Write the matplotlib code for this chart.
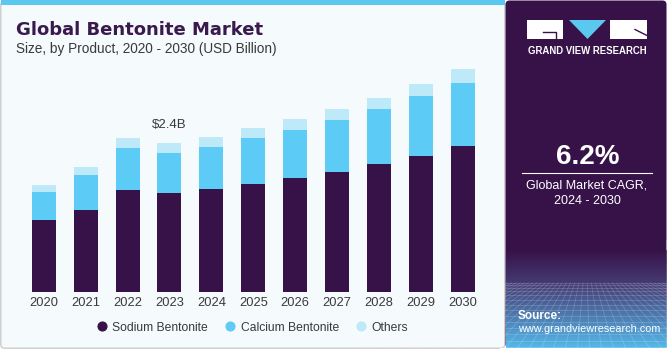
import matplotlib
matplotlib.use("Agg")
import matplotlib.pyplot as plt
from matplotlib.patches import Rectangle, FancyBboxPatch, Polygon
from matplotlib.lines import Line2D
import numpy as np

plt.rcParams["font.family"] = ["Liberation Sans", "DejaVu Sans"]

# ---- data (USD billion) ----
years = ["2020", "2021", "2022", "2023", "2024", "2025",
         "2026", "2027", "2028", "2029", "2030"]
sodium  = [1.16, 1.33, 1.64, 1.60, 1.67, 1.74, 1.84, 1.94, 2.07, 2.20, 2.35]
calcium = [0.46, 0.56, 0.68, 0.64, 0.67, 0.74, 0.78, 0.83, 0.88, 0.96, 1.03]
others  = [0.10, 0.13, 0.16, 0.16, 0.17, 0.17, 0.17, 0.18, 0.18, 0.20, 0.22]
series_names = ["Sodium Bentonite", "Calcium Bentonite", "Others"]
highlight_idx = 3
highlight_label = r"\$2.4B"

PURPLE, BLUE, LIGHT = "#371249", "#5ccbf5", "#bde9f9"
TITLE_C, TXT = "#3a1a4c", "#3a3a3a"
W, H = 670, 350

fig = plt.figure(figsize=(W / 100, H / 100), dpi=100, facecolor="white")

# background layer in pixel coords
bg = fig.add_axes([0, 0, 1, 1], zorder=0)
bg.set_xlim(0, W); bg.set_ylim(H, 0); bg.axis("off")

bg.add_patch(FancyBboxPatch((0.8, 0.8), 504, 347.4, boxstyle="round,pad=0,rounding_size=4",
                            facecolor="#f5fafd", edgecolor="#cccccc", lw=1))
bg.add_patch(Rectangle((0.8, 0), 504.5, 5, color="#5bc8f0", lw=0))

# right panel
bg.add_patch(FancyBboxPatch((505.5, 0.5), 161, 347.5, boxstyle="round,pad=0,rounding_size=4",
                            facecolor=PURPLE, edgecolor="none"))
# gradient at the bottom of the right panel
n = 100
t = np.linspace(0, 1, n)[:, None]
c0 = np.array([0x37, 0x12, 0x49]) / 255
c1 = np.array([0x45, 0x3a, 0x72]) / 255
c2 = np.array([0x55, 0xb8, 0xea]) / 255
k = np.clip(t / 0.33, 0, 1)
k2 = np.clip((t - 0.33) / 0.67, 0, 1)
rgb = c0 * (1 - k) + c1 * k
rgb = np.where(t > 0.33, c1 * (1 - k2) + c2 * k2, rgb)
img = np.repeat(rgb[:, None, :], 2, axis=1)
bg.imshow(img, extent=[505.5, 666.5, 348, 250], aspect="auto", zorder=2,
          interpolation="bilinear")
# faint perspective mesh
for i in range(14):
    yy = 283 + 65 * (i / 13) ** 1.4
    bg.plot([505.5, 666.5], [yy, yy], color="white", alpha=0.18, lw=0.6, zorder=3)
for i in range(-12, 26):
    x0 = 505.5 + i * 12
    bg.plot([586 + (x0 - 586) * 0.35, x0], [283, 348], color="white", alpha=0.18,
            lw=0.6, zorder=3)
bg.add_patch(Rectangle((666.5, 240), 5, 110, color="white", zorder=4))
bg.add_patch(Rectangle((500, 348), 170, 5, color="white", zorder=4))

# logo
bg.add_patch(Rectangle((527, 20), 36, 19, color="white", lw=0, zorder=5))
bg.plot([543, 556, 556], [32, 32, 39], color=PURPLE, lw=1, zorder=6)
bg.add_patch(Polygon([(569, 20), (606, 20), (587.5, 39)], closed=True,
                     color="#5bc8f0", lw=0, zorder=5))
bg.add_patch(Rectangle((610, 20), 37, 19, color="white", lw=0, zorder=5))
bg.plot([635, 647], [29.5, 35.5], color=PURPLE, lw=1, zorder=6)
bg.text(587, 51, "GRAND VIEW RESEARCH", color="white", fontsize=6.9, fontweight="bold",
        ha="center", va="center", zorder=6)

bg.text(587.5, 157, "6.2%", color="white", fontsize=20, fontweight="bold",
        ha="center", va="center", zorder=6)
bg.plot([522, 652], [173.3, 173.3], color="white", lw=0.8, zorder=6)
bg.text(587, 186, "Global Market CAGR,", color="white", fontsize=9,
        ha="center", va="center", zorder=6)
bg.text(587, 201.5, "2024 - 2030", color="white", fontsize=9,
        ha="center", va="center", zorder=6)
bg.text(518, 316, "Source:", color="white", fontsize=8.5, fontweight="bold",
        ha="left", va="center", zorder=6)
bg.text(518, 329.5, "www.grandviewresearch.com", color="white", fontsize=7.8,
        ha="left", va="center", zorder=6)

# titles
bg.text(16.5, 35, "Global Bentonite Market", color=TITLE_C, fontsize=13.0,
        fontweight="bold", family="DejaVu Sans", ha="left", va="baseline")
bg.text(16.5, 53, "Size, by Product, 2020 - 2030 (USD Billion)", color=TXT,
        fontsize=9.8, ha="left", va="baseline")

# ---- chart ----
ax = fig.add_axes([1.8 / W, 58 / H, 502.9 / W, 232 / H], zorder=1)
ax.patch.set_alpha(0)
x = np.arange(len(years))
bot2 = np.array(sodium) + np.array(calcium)
ax.bar(x, sodium, width=0.573, color=PURPLE, lw=0)
ax.bar(x, calcium, width=0.573, bottom=sodium, color=BLUE, lw=0)
ax.bar(x, others, width=0.573, bottom=bot2, color=LIGHT, lw=0)

total = bot2 + np.array(others)
ax.annotate(highlight_label, (x[highlight_idx], total[highlight_idx]),
            textcoords="offset points", xytext=(0, 13), ha="center", va="center",
            fontsize=9.5, color=TXT)

ax.set_xlim(-1, 11)
ax.set_ylim(0, 3.745)
ax.set_xticks(x)
ax.set_xticklabels(years, fontsize=9.3, color=TXT)
ax.tick_params(axis="x", length=0, pad=3.5)
ax.set_yticks([])
for s in ax.spines.values():
    s.set_visible(False)

handles = [Line2D([], [], marker="o", ls="", markersize=6.3, color=c)
           for c in (PURPLE, BLUE, LIGHT)]
fig.legend(handles, series_names, loc="center", bbox_to_anchor=(253 / W, 1 - 327.7 / H),
           ncol=3, frameon=False, fontsize=8.7, handlelength=0.7, handletextpad=0.5,
           columnspacing=1.5, labelcolor=TXT)

fig.savefig("out.png", dpi=100, facecolor="white")
